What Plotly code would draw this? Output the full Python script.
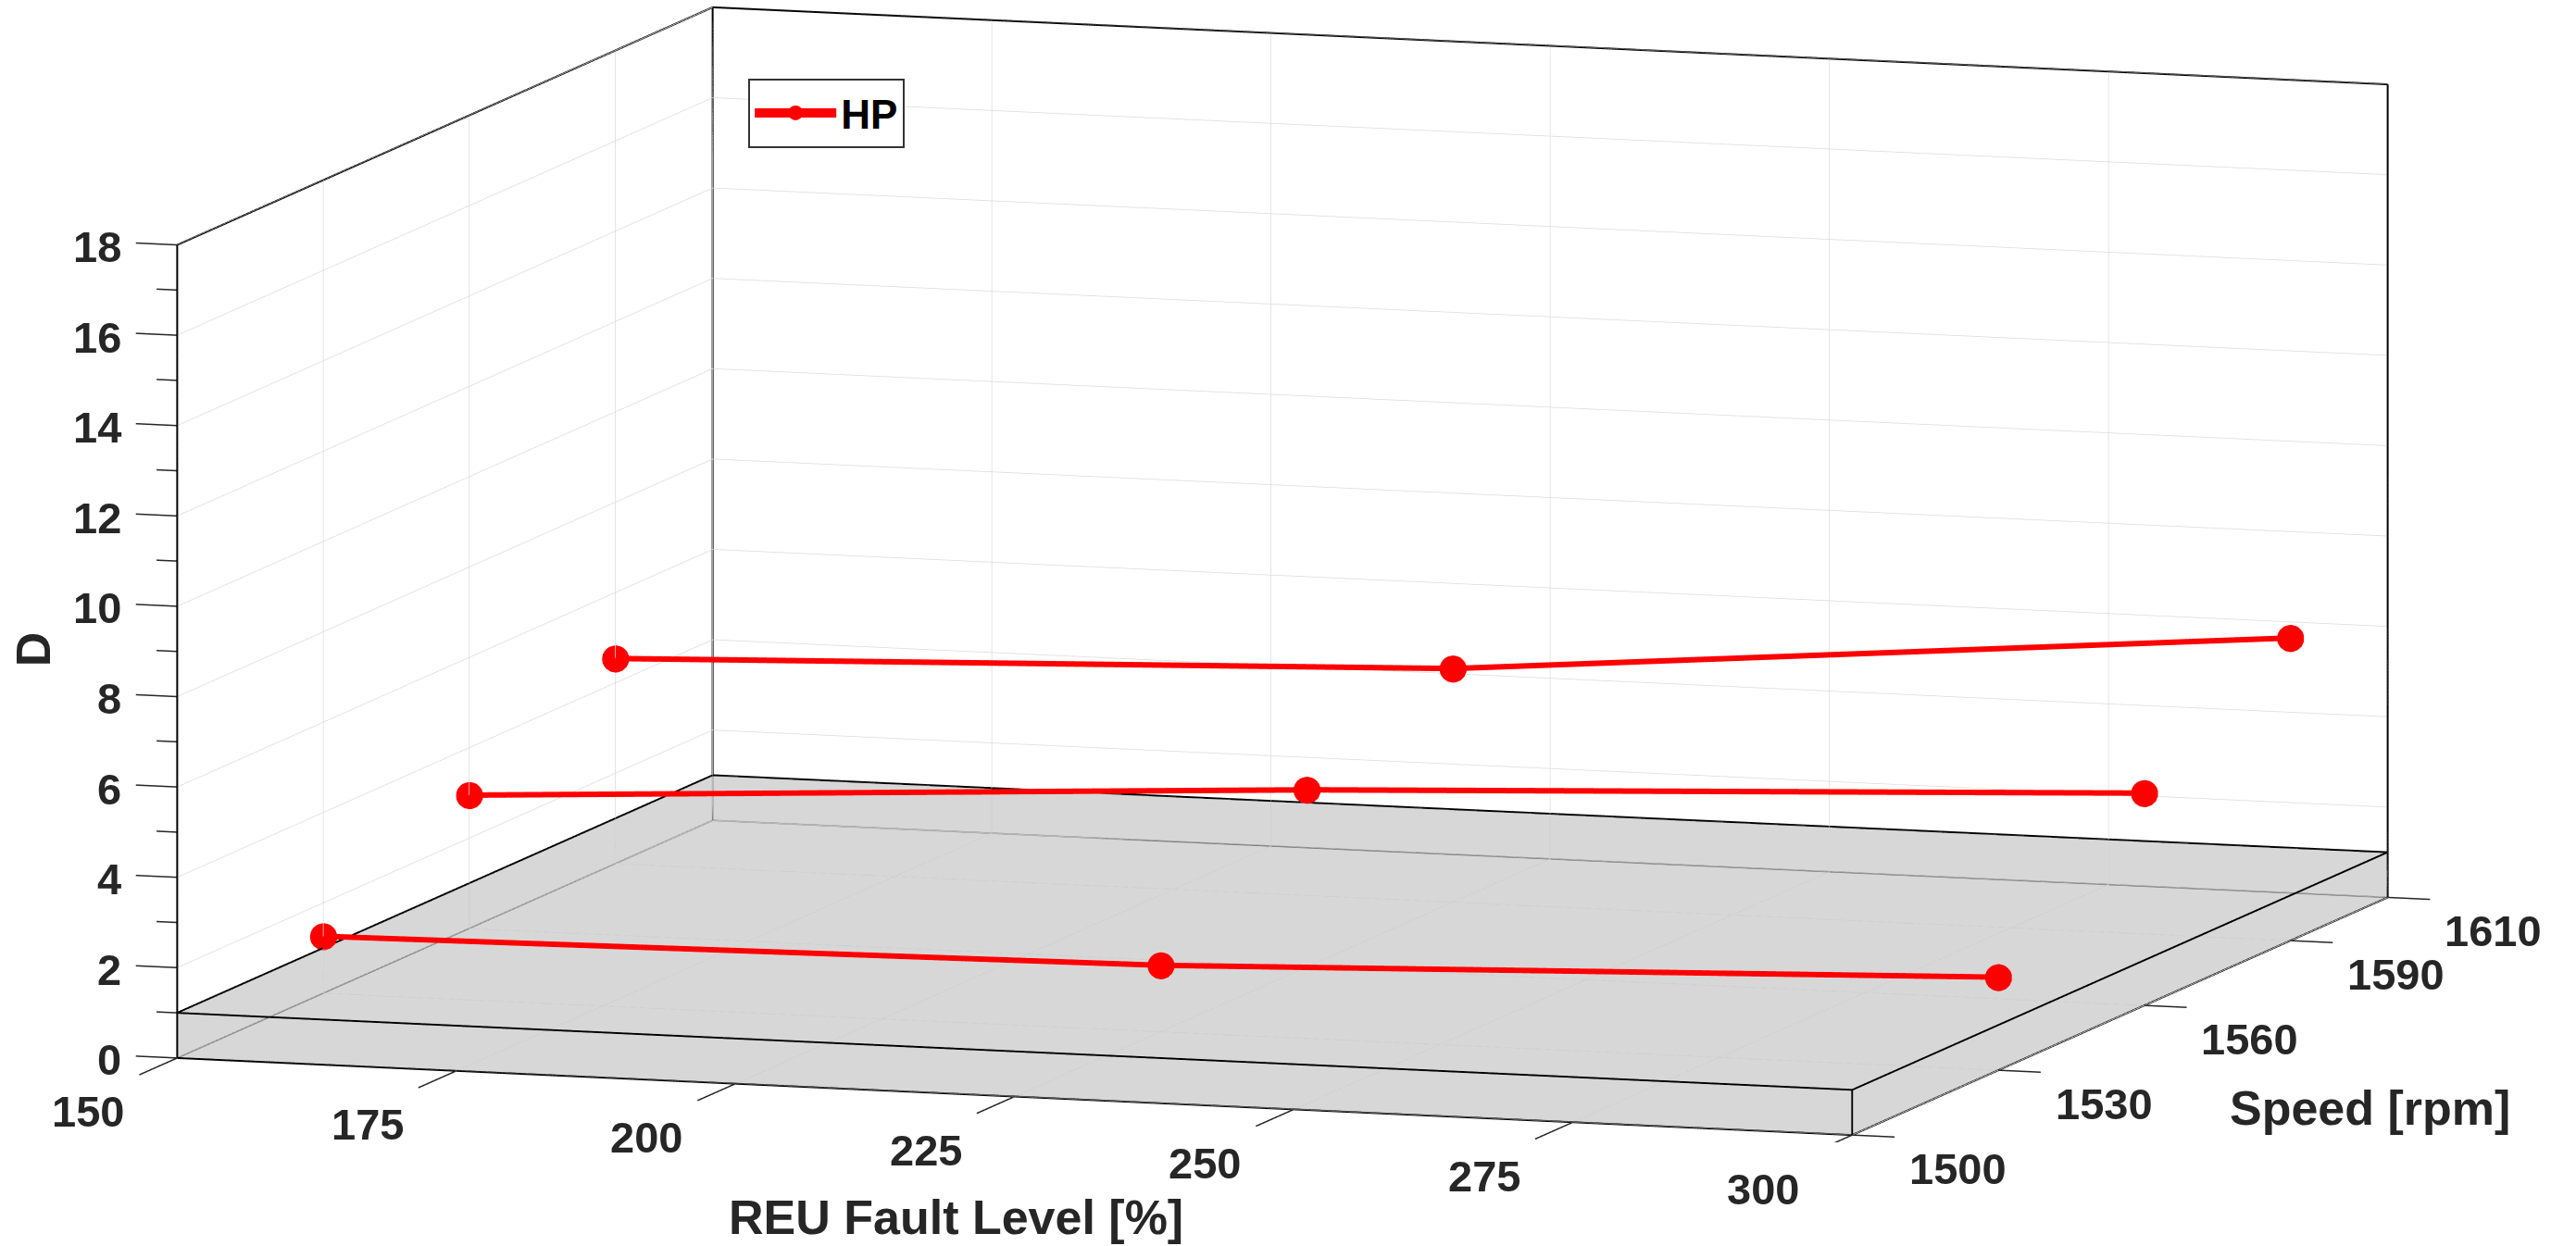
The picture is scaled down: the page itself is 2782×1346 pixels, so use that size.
import plotly.graph_objects as go

# ---- data ----
fault_level = [150, 225, 300]          # REU Fault Level [%]
speeds = [1530, 1560, 1590]             # Speed [rpm]
D_1530 = [1.26, 1.47, 2.06]
D_1560 = [2.95, 3.92, 4.70]
D_1590 = [4.54, 5.17, 6.70]
series = [D_1530, D_1560, D_1590]

x_ticks = [150, 175, 200, 225, 250, 275, 300]
y_ticks = [1500, 1530, 1560, 1590, 1610]
z_ticks = [0, 2, 4, 6, 8, 10, 12, 14, 16, 18]
z_minor = [1, 3, 5, 7, 9, 11, 13, 15, 17]
x_range = [150, 300]
y_range = [1500, 1610]
z_range = [0, 18]
slab_top = 1

FONT = "Liberation Sans"
TXT = "#262626"
GRID = "#dcdcdc"
fig = go.Figure()

x0, x1 = x_range
y0, y1 = y_range
z0, z1 = z_range

# tick lengths (data units)
XT_LEN = 7.8     # along -y
YT_LEN = 3.8     # along +x
ZT_LEN = 3.7     # along -x
# plotly clips outside the scene range: pad the scene symmetrically so ticks survive
PAD_X, PAD_Y = 5, 9
scene_x = [x0 - PAD_X, x1 + PAD_X]
scene_y = [y0 - PAD_Y, y1 + PAD_Y]
SCALE = 3.08
aspect = dict(x=SCALE * (scene_x[1] - scene_x[0]) / (x1 - x0),
              y=SCALE * 0.993 * (scene_y[1] - scene_y[0]) / (y1 - y0),
              z=SCALE * 0.467)

# ---- slab (semi transparent grey box) ----
vx = [x0, x1, x1, x0, x0, x1, x1, x0]
vy = [y0, y0, y1, y1, y0, y0, y1, y1]
vz = [z0, z0, z0, z0, slab_top, slab_top, slab_top, slab_top]
I = [0, 0, 4, 4, 0, 0, 1, 1, 2, 2, 3, 3]
J = [1, 2, 5, 6, 1, 5, 2, 6, 3, 7, 0, 4]
K = [2, 3, 6, 7, 5, 4, 6, 5, 7, 6, 4, 7]
fig.add_trace(go.Mesh3d(x=vx, y=vy, z=vz, i=I, j=J, k=K, color="#b0b0b0", opacity=0.3,
                        flatshading=True,
                        lighting=dict(ambient=1, diffuse=0, specular=0, roughness=1, fresnel=0),
                        hoverinfo="skip", showlegend=False))


def add_segments(segs, color="black", width=2):
    xs, ys, zs = [], [], []
    for p, q in segs:
        xs += [p[0], q[0], None]
        ys += [p[1], q[1], None]
        zs += [p[2], q[2], None]
    fig.add_trace(go.Scatter3d(x=xs, y=ys, z=zs, mode="lines", connectgaps=False,
                               line=dict(color=color, width=width), hoverinfo="skip",
                               showlegend=False))


# grid on the three back planes
grid = []
for xv in x_ticks:
    grid.append(((xv, y1, z0), (xv, y1, z1)))      # back wall verticals
    grid.append(((xv, y0, z0), (xv, y1, z0)))      # floor
for yv in y_ticks:
    grid.append(((x0, yv, z0), (x0, yv, z1)))      # left wall verticals
    grid.append(((x0, yv, z0), (x1, yv, z0)))      # floor
for zv in z_ticks:
    grid.append(((x0, y1, zv), (x1, y1, zv)))      # back wall horizontals
    grid.append(((x0, y0, zv), (x0, y1, zv)))      # left wall
add_segments(grid, GRID, 1.5)

# axis box (back edges) + slab edges
box = [
    ((x0, y0, z0), (x0, y0, z1)),
    ((x0, y0, z1), (x0, y1, z1)),
    ((x0, y1, z1), (x1, y1, z1)),
    ((x0, y1, slab_top), (x0, y1, z1)),
    ((x1, y1, z0), (x1, y1, z1)),
    ((x0, y0, z0), (x1, y0, z0)),
    ((x1, y0, z0), (x1, y1, z0)),
    ((x0, y0, slab_top), (x1, y0, slab_top)),
    ((x1, y0, slab_top), (x1, y1, slab_top)),
    ((x1, y1, slab_top), (x0, y1, slab_top)),
    ((x0, y1, slab_top), (x0, y0, slab_top)),
    ((x1, y0, z0), (x1, y0, slab_top)),
]
add_segments(box, "black", 4)
hidden = [
    ((x0, y1, z0), (x1, y1, z0)),
    ((x0, y0, z0), (x0, y1, z0)),
    ((x0, y1, z0), (x0, y1, slab_top)),
]
add_segments(hidden, "#5a5a5a", 3)

# tick marks (MATLAB-style, outward)
ticks = []
for xv in x_ticks:
    ticks.append(((xv, y0, z0), (xv, y0 - XT_LEN, z0)))
for yv in y_ticks:
    ticks.append(((x1, yv, z0), (x1 + YT_LEN, yv, z0)))
for zv in z_ticks:
    ticks.append(((x0, y0, zv), (x0 - ZT_LEN, y0, zv)))
for zv in z_minor:
    ticks.append(((x0, y0, zv), (x0 - ZT_LEN / 2, y0, zv)))
add_segments(ticks, TXT, 3)

# ---- data lines ----
for n, (sp, d) in enumerate(zip(speeds, series)):
    fig.add_trace(go.Scatter3d(x=fault_level, y=[sp] * len(fault_level), z=d,
                               mode="lines+markers", name="HP",
                               line=dict(color="#ff0000", width=12),
                               marker=dict(color="#ff0000", size=17, symbol="circle",
                                           line=dict(width=0)),
                               legendgroup="HP", showlegend=(n == 0)))

# ---- tick labels and titles as scene annotations ----
TICK_SIZE = 47
TITLE_SIZE = 52
ann = []
for xv in x_ticks:
    ann.append(dict(x=xv, y=y0, z=z0, text=f"<b>{xv}</b>", showarrow=False,
                    xanchor="center", yanchor="middle", xshift=-96, yshift=-58,
                    font=dict(family=FONT, size=TICK_SIZE, color=TXT)))
for yv in y_ticks:
    ann.append(dict(x=x1, y=yv, z=z0, text=f"<b>{yv}</b>", showarrow=False,
                    xanchor="center", yanchor="middle", xshift=114, yshift=-36,
                    font=dict(family=FONT, size=TICK_SIZE, color=TXT)))
for zv in z_ticks:
    ann.append(dict(x=x0, y=y0, z=zv, text=f"<b>{zv}</b>", showarrow=False,
                    xanchor="right", yanchor="middle", xshift=-58, yshift=-2,
                    font=dict(family=FONT, size=TICK_SIZE, color=TXT)))
ann.append(dict(x=(x0 + x1) / 2, y=y0, z=z0, text="<b>REU Fault Level [%]</b>", showarrow=False,
                xanchor="center", yanchor="middle", xshift=-63, yshift=-130,
                font=dict(family=FONT, size=TITLE_SIZE, color=TXT)))
ann.append(dict(x=x1, y=(y0 + y1) / 2, z=z0, text="<b>Speed [rpm]</b>", showarrow=False,
                xanchor="center", yanchor="middle", xshift=270, yshift=-99,
                font=dict(family=FONT, size=TITLE_SIZE, color=TXT)))
ann.append(dict(x=x0, y=y0, z=(z0 + z1) / 2, text="<b>D</b>", showarrow=False, textangle=-90,
                xanchor="center", yanchor="middle", xshift=-156, yshift=3,
                font=dict(family=FONT, size=TITLE_SIZE, color=TXT)))

axis_common = dict(showbackground=False, showgrid=False, showline=False,
                   zeroline=False, ticks="", showticklabels=False, showspikes=False,
                   title=dict(text=""))

fig.update_layout(
    width=2782, height=1346,
    paper_bgcolor="white",
    margin=dict(l=0, r=0, t=0, b=0),
    showlegend=True,
    legend=dict(x=0.2905, y=0.937, xanchor="left", yanchor="top",
                bordercolor="#333333", borderwidth=2, bgcolor="white", itemwidth=88,
                font=dict(family=FONT, size=44, color="black", weight="bold")),
    scene=dict(
        domain=dict(x=[0, 0.9957], y=[0.0832, 1]),
        xaxis=dict(range=scene_x, **axis_common),
        yaxis=dict(range=scene_y, **axis_common),
        zaxis=dict(range=z_range, **axis_common),
        aspectmode="manual",
        aspectratio=aspect,
        camera=dict(projection=dict(type="orthographic"),
                    eye=dict(x=0.3033 * 2, y=-0.9421 * 2, z=0.1429 * 2),
                    up=dict(x=0, y=0, z=1), center=dict(x=0, y=0, z=0)),
        annotations=ann,
    ),
)

fig.write_html("out.html")
